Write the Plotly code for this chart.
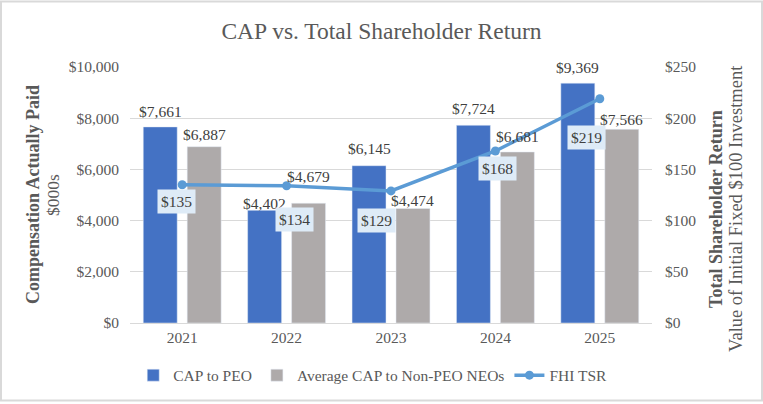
import plotly.graph_objects as go

years = ["2021", "2022", "2023", "2024", "2025"]
cap_peo = [7661, 4402, 6145, 7724, 9369]
cap_neo = [6887, 4679, 4474, 6681, 7566]
tsr = [135, 134, 129, 168, 219]

# label offsets (px): bar labels above bar tops, TSR label boxes relative to points
peo_label_dy = [15, 7, 17, 17, 16]
neo_label_dy = [12, 27, 8, 15, 10]
tsr_label_dx = [-6, 8, -15, 2, -13]
tsr_label_dy = [-17, -34, -30, -18, -39]

FONT = "Liberation Serif"
TXT = "#404040"
TICK = "#595959"

W, H = 763, 404
ML, MR, MT, MB = 130, 111, 67, 79
PW, PH = W - ML - MR, H - MT - MB
BARGAP = 0.158
BAR_OFF = (1 - BARGAP) / 4  # center of each bar relative to category center


def px_x(px):
    return (px - ML) / PW


def px_y(py):
    return (H - MB - py) / PH


fig = go.Figure()
fig.add_trace(go.Bar(
    x=years, y=cap_peo, name="CAP to PEO", marker_color="#4472C4",
))
fig.add_trace(go.Bar(
    x=years, y=cap_neo, name="Average CAP to Non-PEO NEOs", marker_color="#AEAAAA",
))
fig.add_trace(go.Scatter(
    x=years, y=tsr, name="FHI TSR", yaxis="y2", mode="lines+markers",
    line=dict(color="#5B9BD5", width=3.5), marker=dict(size=9, color="#5B9BD5"),
))

for i in range(len(years)):
    fig.add_annotation(
        x=i - BAR_OFF, y=cap_peo[i], xref="x", yref="y", text=f"${cap_peo[i]:,}",
        showarrow=False, yanchor="middle", yshift=peo_label_dy[i],
        font=dict(family=FONT, size=15.5, color=TXT),
    )
    fig.add_annotation(
        x=i + BAR_OFF, y=cap_neo[i], xref="x", yref="y", text=f"${cap_neo[i]:,}",
        showarrow=False, yanchor="middle", yshift=neo_label_dy[i],
        font=dict(family=FONT, size=15.5, color=TXT),
    )

for i, v in enumerate(tsr):
    fig.add_annotation(
        x=i, y=v, xref="x", yref="y2", text=f"${v}", showarrow=False,
        xshift=tsr_label_dx[i], yshift=tsr_label_dy[i],
        bgcolor="#DEEBF7", borderpad=3,
        font=dict(family=FONT, size=15.5, color=TXT),
    )

# axis titles
fig.add_annotation(
    x=px_x(33), y=px_y(196), xref="paper", yref="paper", textangle=-90,
    xanchor="center", yanchor="middle",
    text="<b>Compensation Actually Paid</b>", showarrow=False,
    font=dict(family=FONT, size=18, color=TICK),
)
fig.add_annotation(
    x=px_x(53), y=px_y(196), xref="paper", yref="paper", textangle=-90,
    xanchor="center", yanchor="middle",
    text="$000s", showarrow=False,
    font=dict(family=FONT, size=17.5, color=TICK),
)
fig.add_annotation(
    x=px_x(716), y=px_y(210), xref="paper", yref="paper", textangle=-90,
    xanchor="center", yanchor="middle",
    text="<b>Total Shareholder Return</b>", showarrow=False,
    font=dict(family=FONT, size=18, color=TICK),
)
fig.add_annotation(
    x=px_x(736), y=px_y(210), xref="paper", yref="paper", textangle=-90,
    xanchor="center", yanchor="middle",
    text="Value of Initial Fixed $100 Investment", showarrow=False,
    font=dict(family=FONT, size=18.5, color=TICK),
)

fig.add_shape(
    type="rect", xref="paper", yref="paper",
    x0=px_x(1), x1=px_x(W - 1), y0=px_y(H - 1), y1=px_y(1),
    line=dict(color="#D9D9D9", width=2), layer="below",
)

fig.update_layout(
    width=W, height=H,
    margin=dict(l=ML, r=MR, t=MT, b=MB),
    paper_bgcolor="white", plot_bgcolor="white",
    barmode="group", bargap=BARGAP, bargroupgap=0.227,
    font=dict(family=FONT, color=TICK, size=15.5),
    title=dict(text="CAP vs. Total Shareholder Return", x=0.5, xanchor="center",
               y=1 - 31 / H, yanchor="middle", yref="container",
               font=dict(family=FONT, size=23.5, color=TICK)),
    xaxis=dict(type="category", range=[-0.5, len(years) - 0.5], autorange=False,
               showgrid=False, showline=True, linecolor="#D9D9D9",
               linewidth=1, ticks="", tickfont=dict(family=FONT, size=15.5, color=TICK)),
    yaxis=dict(range=[0, 10000], dtick=2000, tickprefix="$", tickformat=",d",
               showgrid=True, gridcolor="#D9D9D9", gridwidth=1, zeroline=False,
               ticks="", tickfont=dict(family=FONT, size=15.5, color=TICK),
               ticklabelstandoff=10),
    yaxis2=dict(range=[0, 250], dtick=50, tickprefix="$", overlaying="y", side="right",
                showgrid=False, zeroline=False, ticks="",
                tickfont=dict(family=FONT, size=15.5, color=TICK),
                ticklabelstandoff=12),
    legend=dict(orientation="h", x=0.465, xanchor="center", y=px_y(378), yanchor="middle",
                font=dict(family=FONT, size=15.5, color=TICK), itemwidth=30,
                traceorder="normal"),
    showlegend=True,
)

fig.write_html("out.html")
